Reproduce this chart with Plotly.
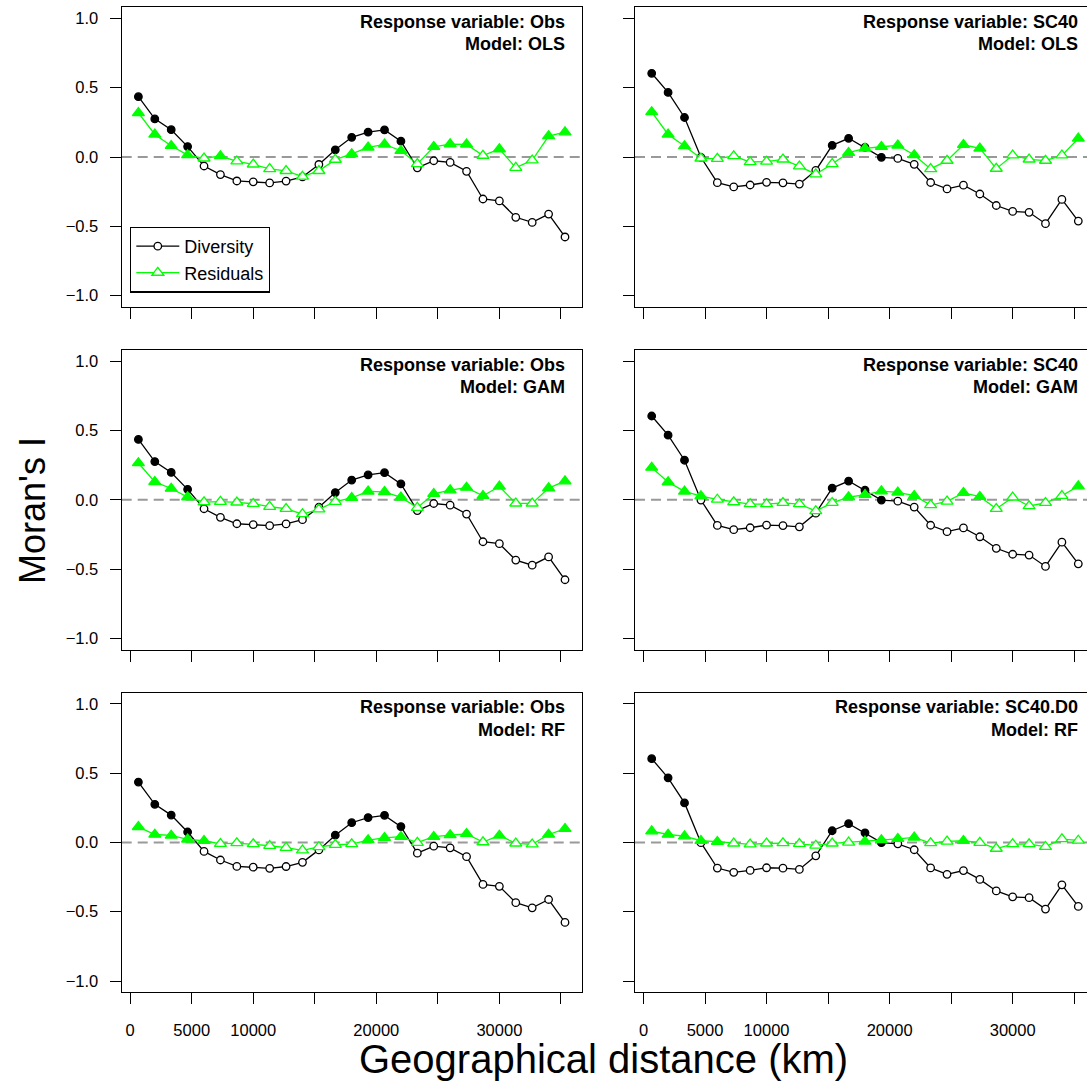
import plotly.graph_objects as go

# ---------------- data ----------------
distance_km = [667, 2000, 3333, 4667, 6000, 7333, 8667, 10000, 11333, 12667, 14000,
               15333, 16667, 18000, 19333, 20667, 22000, 23333, 24667, 26000, 27333,
               28667, 30000, 31333, 32667, 34000, 35333]

div_obs = [0.435, 0.275, 0.197, 0.075, -0.065, -0.127, -0.173, -0.179, -0.187, -0.174,
           -0.144, -0.054, 0.052, 0.142, 0.179, 0.195, 0.114, -0.078, -0.027, -0.039,
           -0.103, -0.303, -0.317, -0.435, -0.472, -0.412, -0.577]
div_obs_sig = [1, 1, 1, 1, 0, 0, 0, 0, 0, 0, 0, 0, 1, 1, 1, 1, 1, 0, 0, 0, 0, 0, 0, 0, 0, 0, 0]

div_sc40 = [0.604, 0.466, 0.285, -0.002, -0.185, -0.216, -0.202, -0.183, -0.186, -0.195,
            -0.097, 0.084, 0.135, 0.069, -0.002, -0.010, -0.053, -0.184, -0.230, -0.203,
            -0.267, -0.350, -0.393, -0.399, -0.481, -0.306, -0.462]
div_sc40_sig = [1, 1, 1, 0, 0, 0, 0, 0, 0, 0, 0, 1, 1, 1, 1, 0, 0, 0, 0, 0, 0, 0, 0, 0, 0, 0, 0]

res_obs_ols = [0.318, 0.163, 0.081, 0.014, -0.010, 0.007, -0.031, -0.053, -0.086, -0.100,
               -0.141, -0.100, -0.019, 0.022, 0.069, 0.091, 0.045, -0.050, 0.074, 0.093,
               0.091, 0.010, 0.057, -0.077, -0.024, 0.151, 0.179]
res_obs_ols_sig = [1, 1, 1, 1, 0, 1, 0, 0, 0, 0, 0, 0, 0, 1, 1, 1, 1, 0, 1, 1, 1, 0, 1, 0, 0, 1, 1]

res_sc40_ols = [0.325, 0.163, 0.079, -0.010, -0.012, 0.007, -0.036, -0.033, -0.017, -0.067,
                -0.124, -0.050, 0.031, 0.062, 0.074, 0.084, 0.014, -0.086, -0.026, 0.088,
                0.062, -0.084, 0.012, -0.017, -0.026, 0.012, 0.134]
res_sc40_ols_sig = [1, 1, 1, 0, 0, 0, 0, 0, 0, 0, 0, 0, 1, 1, 1, 1, 1, 0, 0, 1, 1, 0, 0, 0, 0, 0, 1]

res_obs_gam = [0.265, 0.129, 0.081, 0.019, -0.017, -0.014, -0.019, -0.029, -0.050, -0.065,
               -0.103, -0.069, -0.014, 0.014, 0.060, 0.057, 0.017, -0.057, 0.043, 0.069,
               0.088, 0.029, 0.096, -0.026, -0.026, 0.084, 0.134]
res_obs_gam_sig = [1, 1, 1, 1, 0, 0, 0, 0, 0, 0, 0, 0, 0, 1, 1, 1, 1, 0, 1, 1, 1, 1, 1, 0, 0, 1, 1]

res_sc40_gam = [0.232, 0.127, 0.060, 0.026, 0.002, -0.017, -0.031, -0.031, -0.022, -0.031,
                -0.081, -0.022, 0.019, 0.036, 0.062, 0.053, 0.029, -0.038, -0.012, 0.050,
                0.022, -0.065, 0.017, -0.045, -0.022, 0.029, 0.098]
res_sc40_gam_sig = [1, 1, 1, 1, 0, 0, 0, 0, 0, 0, 0, 0, 1, 1, 1, 1, 1, 0, 0, 1, 1, 0, 0, 0, 0, 0, 1]

res_obs_rf = [0.112, 0.057, 0.050, 0.022, 0.012, -0.010, -0.005, -0.012, -0.024, -0.038,
              -0.057, -0.033, -0.017, -0.012, 0.017, 0.033, 0.041, -0.002, 0.041, 0.053,
              0.062, 0.002, 0.050, -0.007, -0.014, 0.057, 0.098]
res_obs_rf_sig = [1, 1, 1, 1, 1, 0, 0, 0, 0, 0, 0, 0, 0, 0, 1, 1, 1, 0, 1, 1, 1, 0, 1, 0, 0, 1, 1]

res_sc40d0_rf = [0.081, 0.057, 0.045, 0.012, 0.005, -0.007, -0.014, -0.007, -0.005, -0.010,
                 -0.022, -0.007, 0.000, 0.007, 0.017, 0.026, 0.036, -0.005, 0.007, 0.012,
                 -0.002, -0.045, -0.012, -0.012, -0.031, 0.024, 0.014]
res_sc40d0_rf_sig = [1, 1, 1, 1, 1, 0, 0, 0, 0, 0, 0, 0, 0, 1, 1, 1, 1, 0, 0, 1, 0, 0, 0, 0, 0, 0, 0]

response_labels = ["Obs", "SC40", "Obs", "SC40", "Obs", "SC40.D0"]
model_labels = ["OLS", "OLS", "GAM", "GAM", "RF", "RF"]

x_tick_vals = [0, 5000, 10000, 15000, 20000, 25000, 30000, 35000]
x_tick_text = ["0", "5000", "10000", "", "20000", "", "30000", ""]
y_tick_vals = [-1.0, -0.5, 0.0, 0.5, 1.0]
y_tick_text = ["\u22121.0", "\u22120.5", "0.0", "0.5", "1.0"]

panel_div = [(div_obs, div_obs_sig), (div_sc40, div_sc40_sig)] * 3
panel_res = [(res_obs_ols, res_obs_ols_sig), (res_sc40_ols, res_sc40_ols_sig),
             (res_obs_gam, res_obs_gam_sig), (res_sc40_gam, res_sc40_gam_sig),
             (res_obs_rf, res_obs_rf_sig), (res_sc40d0_rf, res_sc40d0_rf_sig)]

# ---------------- layout geometry ----------------
W, H = 1087, 1084
FONT = "Liberation Sans, Arial, sans-serif"
GREEN = "#00ff00"
col_px = [(121.7, 581.7), (635.0, 1087.0)]
row_px = [(7.3, 306.7), (350.0, 649.5), (692.7, 992.1)]
X0 = -690.0
KM_PER_PX = 37380.0 / 460.0


def px_x(p):
    return p / W


def px_y(p):
    return 1 - p / H


fig = go.Figure()
layout = dict(
    width=W, height=H,
    margin=dict(l=0, r=0, t=0, b=0),
    paper_bgcolor="white", plot_bgcolor="white",
    font=dict(family=FONT, color="black"),
    showlegend=True,
)
shapes = []
annotations = []

for k in range(6):
    r, c = divmod(k, 2)
    s = "" if k == 0 else str(k + 1)
    xa, ya = "x" + s, "y" + s
    (xl, xr), (yt, yb) = col_px[c], row_px[r]

    layout["xaxis" + s] = dict(
        domain=[px_x(xl), px_x(xr)], anchor=ya,
        range=[X0, X0 + (xr - xl) * KM_PER_PX],
        tickmode="array", tickvals=x_tick_vals, ticktext=x_tick_text,
        ticks="outside", ticklen=11, tickwidth=1.3, tickcolor="black",
        showticklabels=(r == 2), tickfont=dict(size=16.5, family=FONT),
        ticklabelstandoff=12,
        showline=True, linecolor="black", linewidth=1.3, mirror=True,
        showgrid=False, zeroline=False,
    )
    layout["yaxis" + s] = dict(
        domain=[px_y(yb), px_y(yt)], anchor=xa,
        range=[-1.08, 1.08],
        tickmode="array", tickvals=y_tick_vals, ticktext=y_tick_text,
        ticks="outside", ticklen=11, tickwidth=1.3, tickcolor="black",
        showticklabels=(c == 0), tickfont=dict(size=16.5, family=FONT),
        ticklabelstandoff=8,
        showline=True, linecolor="black", linewidth=1.3, mirror=(c == 0),
        showgrid=False, zeroline=False,
    )

    shapes.append(dict(type="line", xref=xa + " domain", yref=ya, x0=0, x1=1, y0=0, y1=0,
                       line=dict(color="#999999", width=2, dash="10px,6px"), layer="below"))

    dv, dsig = panel_div[k]
    fig.add_trace(go.Scatter(
        x=distance_km, y=dv, xaxis=xa, yaxis=ya, mode="lines+markers", showlegend=False,
        line=dict(color="black", width=1.3),
        marker=dict(symbol="circle", size=7.5,
                    color=["black" if f else "white" for f in dsig],
                    line=dict(color="black", width=1.3)),
        hoverinfo="skip"))
    rv, rsig = panel_res[k]
    fig.add_trace(go.Scatter(
        x=distance_km, y=rv, xaxis=xa, yaxis=ya, mode="lines+markers", showlegend=False,
        line=dict(color=GREEN, width=1.3),
        marker=dict(symbol="triangle-up", size=10.5,
                    color=[GREEN if f else "white" for f in rsig],
                    line=dict(color=GREEN, width=1.3)),
        hoverinfo="skip"))

    right_edge = (xr - 15.0) if c == 0 else 1080.0
    annotations.append(dict(
        xref="paper", yref="paper", x=px_x(right_edge), y=px_y(yt + 14.7),
        xanchor="right", yanchor="middle", showarrow=False,
        text="<b>Response variable: %s</b>" % response_labels[k],
        font=dict(size=18, family=FONT, color="black")))
    annotations.append(dict(
        xref="paper", yref="paper", x=px_x(right_edge), y=px_y(yt + 37.2),
        xanchor="right", yanchor="middle", showarrow=False,
        text="<b>Model: %s</b>" % model_labels[k],
        font=dict(size=18, family=FONT, color="black")))

# legend entries (style only)
fig.add_trace(go.Scatter(x=[None], y=[None], xaxis="x", yaxis="y", mode="lines+markers",
                         name="Diversity", line=dict(color="black", width=1.3),
                         marker=dict(symbol="circle", size=7.5, color="white",
                                     line=dict(color="black", width=1.3))))
fig.add_trace(go.Scatter(x=[None], y=[None], xaxis="x", yaxis="y", mode="lines+markers",
                         name="Residuals", line=dict(color=GREEN, width=1.3),
                         marker=dict(symbol="triangle-up", size=10.5, color="white",
                                     line=dict(color=GREEN, width=1.3))))

layout["legend"] = dict(
    x=px_x(130), y=px_y(226.7), xanchor="left", yanchor="top",
    bordercolor="black", borderwidth=1.3, bgcolor="white",
    font=dict(size=18, family=FONT, color="black"),
    itemwidth=43, tracegroupgap=0,
)

annotations.append(dict(
    xref="paper", yref="paper", x=px_x(32), y=px_y(511), textangle=-90,
    xanchor="center", yanchor="middle", showarrow=False, text="Moran's I",
    font=dict(size=36, family=FONT, color="black")))
annotations.append(dict(
    xref="paper", yref="paper", x=px_x(603), y=px_y(1059),
    xanchor="center", yanchor="middle", showarrow=False, text="Geographical distance (km)",
    font=dict(size=40, family=FONT, color="black")))

layout["shapes"] = shapes
layout["annotations"] = annotations
fig.update_layout(**layout)
fig.write_html("out.html")
